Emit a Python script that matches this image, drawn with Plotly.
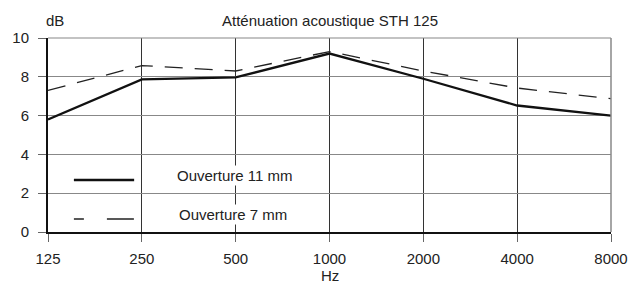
import plotly.graph_objects as go
import math

freqs = [125, 250, 500, 1000, 2000, 4000, 8000]
freq_labels = ["125", "250", "500", "1000", "2000", "4000", "8000"]
open_11mm = [5.8, 7.87, 7.97, 9.2, 7.9, 6.52, 6.0]
open_7mm = [7.3, 8.58, 8.3, 9.3, 8.3, 7.42, 6.87]
y_ticks = [0, 2, 4, 6, 8, 10]

FONT = "Liberation Sans, Arial, sans-serif"
FS = 15

fig = go.Figure()
fig.add_trace(go.Scatter(x=freqs, y=open_7mm, mode="lines", name="Ouverture 7 mm",
                         line=dict(color="#222", width=1.3, dash="18px,12px")))
fig.add_trace(go.Scatter(x=freqs, y=open_11mm, mode="lines", name="Ouverture 11 mm",
                         line=dict(color="#111", width=2.3)))

# page body has an 8px default margin: size the figure to fit the 641x284 window
fig.update_layout(
    width=633, height=276,
    margin=dict(l=40, r=30, t=30, b=52, autoexpand=False),
    paper_bgcolor="white", plot_bgcolor="white",
    showlegend=False,
    font=dict(family=FONT, size=FS, color="#222"),
    xaxis=dict(type="log", range=[math.log10(125), math.log10(8000)],
               tickvals=freqs, ticktext=freq_labels,
               showgrid=True, gridcolor="#333", gridwidth=1,
               showline=True, linecolor="#111", linewidth=2,
               ticks="outside", ticklen=8, tickcolor="#666", tickwidth=1,
               ticklabelstandoff=4, automargin=False,
               zeroline=False, mirror=False),
    yaxis=dict(range=[0, 10], tickvals=y_ticks,
               showgrid=True, gridcolor="#888", gridwidth=1.2,
               showline=True, linecolor="#111", linewidth=2,
               ticks="outside", ticklen=8, tickcolor="#666", tickwidth=1,
               ticklabelstandoff=6, automargin=False,
               zeroline=False),
)

# top and right borders (gray)
fig.add_shape(type="line", xref="paper", yref="paper", x0=0, x1=1, y0=1, y1=1,
              line=dict(color="#888", width=1.2))
fig.add_shape(type="line", xref="paper", yref="paper", x0=1, x1=1, y0=0, y1=1,
              line=dict(color="#888", width=1.5))

# legend samples
fig.add_shape(type="line", xref="paper", yref="paper", x0=0.046, x1=0.153, y0=0.268, y1=0.268,
              line=dict(color="#111", width=2.3))
fig.add_shape(type="line", xref="paper", yref="paper", x0=0.046, x1=0.153, y0=0.067, y1=0.067,
              line=dict(color="#222", width=1.3, dash="10px,23px,27px"))

fig.add_annotation(text="Ouverture 11 mm", xref="paper", yref="paper", x=0.332, y=0.289,
                   xanchor="center", yanchor="middle",
                   showarrow=False, bgcolor="white", font=dict(size=FS))
fig.add_annotation(text="Ouverture 7 mm", xref="paper", yref="paper", x=0.328, y=0.088,
                   xanchor="center", yanchor="middle",
                   showarrow=False, bgcolor="white", font=dict(size=FS))

fig.add_annotation(text="Atténuation acoustique STH 125", xref="paper", yref="paper",
                   x=0.5, y=1, yshift=18, xanchor="center", yanchor="middle",
                   showarrow=False, font=dict(size=FS))
fig.add_annotation(text="dB", xref="paper", yref="paper",
                   x=0, y=1, yshift=18, xshift=-4, xanchor="left", yanchor="middle",
                   showarrow=False, font=dict(size=FS))
fig.add_annotation(text="Hz", xref="paper", yref="paper",
                   x=0.5, y=0, yshift=-43, xanchor="center", yanchor="middle",
                   showarrow=False, font=dict(size=FS))

fig.write_html("out.html")
